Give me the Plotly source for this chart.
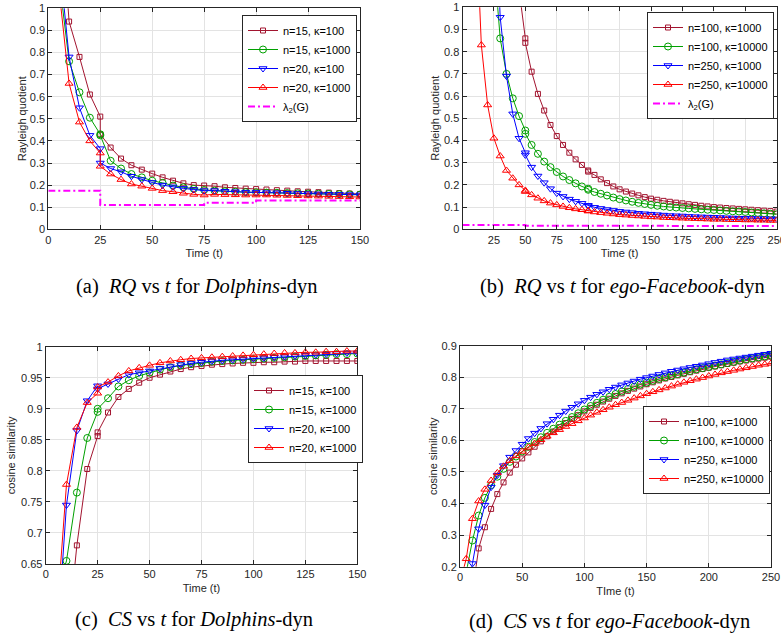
import plotly.graph_objects as go

# ---------------- data ----------------
# (a) RQ vs t, Dolphins-dyn (network changes at t=25)
t_a = [5, 10, 15, 20, 25, 25, 30, 35, 40, 45, 50, 55, 60, 65, 70, 75, 80, 85, 90, 95,
       100, 105, 110, 115, 120, 125, 130, 135, 140, 145, 150]
rq_a_n15_k100 = [1.60, 0.94, 0.78, 0.61, 0.51, 0.43, 0.37, 0.32, 0.29, 0.27, 0.252, 0.235, 0.22, 0.208, 0.20,
                 0.198, 0.195, 0.19, 0.187, 0.184, 0.182, 0.18, 0.177, 0.175, 0.172, 0.17, 0.168, 0.166, 0.164, 0.162, 0.16]
rq_a_n15_k1000 = [1.15, 0.76, 0.62, 0.505, 0.43, 0.425, 0.31, 0.275, 0.25, 0.235, 0.22, 0.21, 0.198, 0.19, 0.183,
                  0.178, 0.175, 0.172, 0.17, 0.168, 0.167, 0.166, 0.165, 0.164, 0.163, 0.162, 0.161, 0.16, 0.159, 0.158, 0.157]
rq_a_n20_k100 = [1.25, 0.78, 0.55, 0.425, 0.365, 0.30, 0.275, 0.26, 0.24, 0.225, 0.212, 0.20, 0.192, 0.185, 0.18,
                 0.175, 0.175, 0.172, 0.17, 0.168, 0.167, 0.166, 0.165, 0.163, 0.162, 0.161, 0.16, 0.159, 0.158, 0.157, 0.156]
rq_a_n20_k1000 = [1.10, 0.66, 0.485, 0.40, 0.345, 0.285, 0.25, 0.225, 0.205, 0.195, 0.185, 0.175, 0.17, 0.163, 0.158,
                  0.155, 0.158, 0.157, 0.156, 0.155, 0.155, 0.155, 0.154, 0.153, 0.152, 0.151, 0.15, 0.149, 0.148, 0.147, 0.146]
lam_a_t = [0, 25, 25, 75, 75, 100, 100, 150]
lam_a = [0.175, 0.175, 0.11, 0.11, 0.12, 0.12, 0.13, 0.13]

# (b) RQ vs t, ego-Facebook-dyn (changes at t=50, 100)
t_b = [5, 10, 15, 20, 25, 30, 35, 40, 45, 50, 50, 55, 60, 65, 70, 75, 80, 85, 90, 95, 100, 100,
       105, 110, 115, 120, 125, 130, 135, 140, 145, 150, 155, 160, 165, 170, 175, 180, 185, 190,
       195, 200, 205, 210, 215, 220, 225, 230, 235, 240, 245, 250]
rq_b_n100_k1000 = [4.0, 3.5, 3.0, 2.6, 2.2, 1.85, 1.55, 1.3, 1.08, 0.86, 0.84, 0.71, 0.61, 0.535, 0.47, 0.42,
                   0.38, 0.345, 0.315, 0.29, 0.265, 0.26, 0.245, 0.225, 0.208, 0.193, 0.18, 0.17, 0.161, 0.153,
                   0.145, 0.138, 0.133, 0.128, 0.124, 0.12, 0.117, 0.113, 0.11, 0.106, 0.103, 0.10, 0.098,
                   0.096, 0.094, 0.092, 0.09, 0.088, 0.086, 0.084, 0.082, 0.08]
rq_b_n100_k10000 = [2.8, 2.3, 1.9, 1.55, 1.21, 0.86, 0.70, 0.59, 0.51, 0.445, 0.43, 0.38, 0.34, 0.305, 0.28,
                    0.258, 0.238, 0.222, 0.207, 0.193, 0.183, 0.178, 0.168, 0.16, 0.152, 0.143, 0.136, 0.13,
                    0.124, 0.119, 0.114, 0.11, 0.106, 0.103, 0.10, 0.098, 0.096, 0.094, 0.092, 0.09, 0.088,
                    0.087, 0.085, 0.083, 0.081, 0.08, 0.078, 0.076, 0.074, 0.072, 0.07, 0.068]
rq_b_n250_k1000 = [3.2, 2.7, 2.2, 1.8, 1.6, 0.955, 0.69, 0.52, 0.41, 0.345, 0.335, 0.28, 0.24, 0.21, 0.183,
                   0.163, 0.148, 0.136, 0.126, 0.117, 0.108, 0.105, 0.099, 0.094, 0.089, 0.085, 0.081, 0.078,
                   0.075, 0.072, 0.07, 0.068, 0.066, 0.064, 0.062, 0.061, 0.06, 0.058, 0.057, 0.056, 0.055,
                   0.054, 0.053, 0.052, 0.051, 0.05, 0.05, 0.049, 0.048, 0.048, 0.047, 0.047]
rq_b_n250_k10000 = [2.5, 1.5, 0.83, 0.56, 0.41, 0.33, 0.265, 0.23, 0.20, 0.175, 0.17, 0.155, 0.14, 0.128,
                    0.118, 0.11, 0.103, 0.097, 0.092, 0.088, 0.084, 0.082, 0.078, 0.075, 0.072, 0.069, 0.066,
                    0.064, 0.062, 0.06, 0.058, 0.056, 0.055, 0.053, 0.052, 0.051, 0.05, 0.049, 0.048, 0.047,
                    0.046, 0.045, 0.045, 0.044, 0.043, 0.043, 0.042, 0.042, 0.041, 0.041, 0.04, 0.04]
lam_b_t = [0, 50, 50, 250]
lam_b = [0.019, 0.019, 0.016, 0.015]

# (c) CS vs t, Dolphins-dyn
t_c = t_a
cs_c_n15_k100 = [0.3, 0.513, 0.68, 0.803, 0.856, 0.862, 0.894, 0.919, 0.932, 0.942, 0.95, 0.955, 0.96, 0.964,
                 0.967, 0.969, 0.971, 0.972, 0.973, 0.974, 0.974, 0.975, 0.975, 0.976, 0.976, 0.977, 0.977,
                 0.977, 0.977, 0.977, 0.977]
cs_c_n15_k1000 = [0.6, 0.655, 0.765, 0.853, 0.895, 0.90, 0.917, 0.936, 0.946, 0.953, 0.958, 0.963, 0.967, 0.97,
                  0.972, 0.974, 0.976, 0.977, 0.978, 0.979, 0.98, 0.981, 0.982, 0.983, 0.984, 0.985, 0.986,
                  0.987, 0.988, 0.988, 0.989]
cs_c_n20_k100 = [0.5, 0.745, 0.865, 0.913, 0.937, 0.932, 0.94, 0.948, 0.955, 0.958, 0.961, 0.965, 0.968, 0.971,
                 0.973, 0.975, 0.977, 0.978, 0.979, 0.98, 0.981, 0.982, 0.983, 0.984, 0.985, 0.986, 0.987,
                 0.988, 0.989, 0.99, 0.99]
cs_c_n20_k1000 = [0.55, 0.778, 0.87, 0.91, 0.925, 0.935, 0.943, 0.953, 0.961, 0.966, 0.97, 0.974, 0.977, 0.979,
                  0.981, 0.982, 0.983, 0.984, 0.985, 0.986, 0.987, 0.988, 0.989, 0.99, 0.99, 0.991, 0.991,
                  0.992, 0.992, 0.993, 0.993]

# (d) CS vs t, ego-Facebook-dyn
t_d = [0, 5, 10, 15, 20, 25, 30, 35, 40, 45, 50, 55, 60, 65, 70, 75, 80, 85, 90, 95, 100, 105, 110,
       115, 120, 125, 130, 135, 140, 145, 150, 155, 160, 165, 170, 175, 180, 185, 190, 195, 200, 205,
       210, 215, 220, 225, 230, 235, 240, 245, 250]
cs_d_n100_k1000 = [0.0, 0.05, 0.12, 0.258, 0.325, 0.383, 0.43, 0.467, 0.498, 0.523, 0.543, 0.562, 0.58, 0.597,
                   0.613, 0.628, 0.642, 0.655, 0.668, 0.68, 0.692, 0.703, 0.713, 0.723, 0.732, 0.741, 0.749,
                   0.757, 0.764, 0.771, 0.778, 0.784, 0.79, 0.796, 0.801, 0.806, 0.811, 0.816, 0.821, 0.826,
                   0.83, 0.834, 0.838, 0.842, 0.846, 0.85, 0.853, 0.856, 0.859, 0.862, 0.865]
cs_d_n100_k10000 = [0.08, 0.18, 0.283, 0.362, 0.418, 0.458, 0.485, 0.51, 0.532, 0.549, 0.565, 0.58, 0.595,
                    0.61, 0.624, 0.637, 0.65, 0.662, 0.674, 0.686, 0.698, 0.709, 0.719, 0.729, 0.738, 0.747,
                    0.755, 0.763, 0.77, 0.777, 0.783, 0.789, 0.795, 0.80, 0.805, 0.81, 0.815, 0.82, 0.825,
                    0.829, 0.833, 0.837, 0.841, 0.845, 0.849, 0.853, 0.857, 0.86, 0.863, 0.866, 0.869]
cs_d_n250_k1000 = [0.0, 0.1, 0.21, 0.32, 0.395, 0.452, 0.49, 0.52, 0.547, 0.568, 0.588, 0.606, 0.623, 0.638,
                   0.653, 0.667, 0.68, 0.693, 0.705, 0.716, 0.727, 0.737, 0.746, 0.754, 0.762, 0.769, 0.776,
                   0.782, 0.788, 0.794, 0.799, 0.804, 0.809, 0.814, 0.819, 0.823, 0.827, 0.831, 0.835, 0.839,
                   0.843, 0.847, 0.851, 0.855, 0.858, 0.861, 0.864, 0.867, 0.87, 0.873, 0.876]
cs_d_n250_k10000 = [0.15, 0.225, 0.352, 0.408, 0.445, 0.473, 0.497, 0.518, 0.536, 0.551, 0.565, 0.578, 0.59,
                    0.602, 0.613, 0.624, 0.634, 0.644, 0.653, 0.662, 0.671, 0.68, 0.689, 0.697, 0.705, 0.713,
                    0.72, 0.727, 0.734, 0.741, 0.748, 0.754, 0.76, 0.766, 0.772, 0.778, 0.784, 0.789, 0.794,
                    0.799, 0.804, 0.809, 0.814, 0.818, 0.822, 0.826, 0.83, 0.834, 0.838, 0.841, 0.844]

names_dol = ["n=15, κ=100", "n=15, κ=1000", "n=20, κ=100", "n=20, κ=1000"]
names_fb = ["n=100, κ=1000", "n=100, κ=10000", "n=250, κ=1000", "n=250, κ=10000"]
lam_name = "λ<sub>2</sub>(G)"
x_titles = {1: "Time (t)", 2: "Time (t)", 3: "Time (t)", 4: "TIme (t)"}
y_titles = {1: "Rayleigh quotient", 2: "Rayleigh quotient", 3: "cosine similarity", 4: "cosine similarity"}

# ---------------- styling ----------------
W, H = 781, 638
COLORS = ["#A2142F", "#00A000", "#0000FF", "#FF0000"]
SYMBOLS = ["square-open", "circle-open", "triangle-down-open", "triangle-up-open"]
MSIZES = [5, 7, 7, 7]
MAGENTA = "#FF00FF"
AX = "#262626"
SANS = "Liberation Sans, Arial, sans-serif"
SERIF = "Liberation Serif, Times New Roman, serif"

# plot areas in pixels: (left, right, top, bottom)
boxes = {
    1: (48.3, 360.0, 8.3, 229.3),
    2: (462.5, 776.7, 7.3, 229.3),
    3: (45.7, 357.3, 346.7, 564.0),
    4: (460.0, 771.0, 345.7, 566.7),
}
x_standoff = {1: 4, 2: 4, 3: 5, 4: 5}
y_standoff = {1: 0, 2: 2, 3: 3, 4: 1}

fig = go.Figure()


def add_series(k, t, ys, names, legend):
    xa = "x" if k == 1 else f"x{k}"
    ya = "y" if k == 1 else f"y{k}"
    for i, (y, nm) in enumerate(zip(ys, names)):
        fig.add_trace(go.Scatter(
            x=t, y=y, name=nm, mode="lines+markers", xaxis=xa, yaxis=ya,
            legend=legend, legendgroup=f"{legend}_{i}",
            line=dict(color=COLORS[i], width=1),
            marker=dict(symbol=SYMBOLS[i], size=MSIZES[i], color=COLORS[i],
                        line=dict(color=COLORS[i], width=1)),
        ))


def add_lambda(k, t, y, legend):
    xa = "x" if k == 1 else f"x{k}"
    ya = "y" if k == 1 else f"y{k}"
    fig.add_trace(go.Scatter(
        x=t, y=y, name=lam_name, mode="lines", xaxis=xa, yaxis=ya,
        legend=legend, legendgroup=f"{legend}_lam",
        line=dict(color=MAGENTA, width=2, dash="7px,3px,2px,3px"),
    ))


add_series(1, t_a, [rq_a_n15_k100, rq_a_n15_k1000, rq_a_n20_k100, rq_a_n20_k1000], names_dol, "legend")
add_lambda(1, lam_a_t, lam_a, "legend")
add_series(2, t_b, [rq_b_n100_k1000, rq_b_n100_k10000, rq_b_n250_k1000, rq_b_n250_k10000], names_fb, "legend2")
add_lambda(2, lam_b_t, lam_b, "legend2")
add_series(3, t_c, [cs_c_n15_k100, cs_c_n15_k1000, cs_c_n20_k100, cs_c_n20_k1000], names_dol, "legend3")
add_series(4, t_d, [cs_d_n100_k1000, cs_d_n100_k10000, cs_d_n250_k1000, cs_d_n250_k10000], names_fb, "legend4")


def axis_common():
    return dict(showline=True, linecolor=AX, linewidth=1, mirror="ticks", ticks="inside",
                ticklen=4, tickcolor=AX, tickwidth=1, showgrid=True, gridcolor="#E3E3E3",
                gridwidth=1, zeroline=False, tickfont=dict(family=SANS, size=11, color=AX),
                fixedrange=True, automargin=False, ticklabeloverflow="allow")


x_ranges = {1: [0, 150], 2: [0, 250], 3: [0, 150], 4: [0, 250]}
x_ticks = {1: [0, 25, 50, 75, 100, 125, 150],
           2: [25, 50, 75, 100, 125, 150, 175, 200, 225, 250],
           3: [0, 25, 50, 75, 100, 125, 150],
           4: [0, 50, 100, 150, 200, 250]}
y_ranges = {1: [0, 1], 2: [0, 1], 3: [0.65, 1], 4: [0.2, 0.9]}
y_ticks = {1: [0, 0.1, 0.2, 0.3, 0.4, 0.5, 0.6, 0.7, 0.8, 0.9, 1],
           2: [0, 0.1, 0.2, 0.3, 0.4, 0.5, 0.6, 0.7, 0.8, 0.9, 1],
           3: [0.65, 0.7, 0.75, 0.8, 0.85, 0.9, 0.95, 1],
           4: [0.2, 0.3, 0.4, 0.5, 0.6, 0.7, 0.8, 0.9]}


def fmt(v):
    s = f"{v:.2f}".rstrip("0").rstrip(".")
    return s


layout = {}
for k, (l, r, t, b) in boxes.items():
    xn = "xaxis" if k == 1 else f"xaxis{k}"
    yn = "yaxis" if k == 1 else f"yaxis{k}"
    ya = "y" if k == 1 else f"y{k}"
    xa = "x" if k == 1 else f"x{k}"
    xd = axis_common()
    xd.update(domain=[l / W, r / W], range=x_ranges[k], anchor=ya,
              tickvals=x_ticks[k], ticktext=[str(v) for v in x_ticks[k]],
              title=dict(text=x_titles[k], standoff=x_standoff[k],
                         font=dict(family=SANS, size=11, color=AX)))
    yd = axis_common()
    yd.update(domain=[1 - b / H, 1 - t / H], range=y_ranges[k], anchor=xa,
              tickvals=y_ticks[k], ticktext=[fmt(v) for v in y_ticks[k]],
              title=dict(text=y_titles[k], standoff=y_standoff[k],
                         font=dict(family=SANS, size=11, color=AX)))
    layout[xn] = xd
    layout[yn] = yd


def leg(left, top):
    return dict(x=left / W, y=1 - top / H, xanchor="left", yanchor="top",
                bgcolor="white", bordercolor=AX, borderwidth=1,
                font=dict(family=SANS, size=11, color="#000000"),
                itemwidth=30, tracegroupgap=0, traceorder="normal")


layout["legend"] = leg(242, 15)
layout["legend2"] = leg(647, 12)
layout["legend3"] = leg(248, 375)
layout["legend4"] = leg(643, 406)

annotations = []


def ann(text, x, y, size=11, family=SANS, angle=0, color=AX):
    annotations.append(dict(text=text, x=x / W, y=1 - y / H, xref="paper", yref="paper",
                            showarrow=False, xanchor="center", yanchor="middle",
                            textangle=angle, font=dict(family=family, size=size, color=color)))


# captions
CAP = 20.5
ann("(a)  <i>RQ</i> vs <i>t</i> for <i>Dolphins</i>-dyn", 196, 286, size=CAP, family=SERIF, color="#000000")
ann("(b)  <i>RQ</i> vs <i>t</i> for <i>ego-Facebook</i>-dyn", 622, 286, size=CAP, family=SERIF, color="#000000")
ann("(c)  <i>CS</i> vs <i>t</i> for <i>Dolphins</i>-dyn", 194, 619, size=CAP, family=SERIF, color="#000000")
ann("(d)  <i>CS</i> vs <i>t</i> for <i>ego-Facebook</i>-dyn", 609, 621, size=CAP, family=SERIF, color="#000000")

layout["annotations"] = annotations
fig.update_layout(**layout)
fig.update_layout(width=W, height=H, margin=dict(l=0, r=0, t=0, b=0),
                  paper_bgcolor="white", plot_bgcolor="white", showlegend=True)

fig.write_html("out.html", config={"displayModeBar": False})
